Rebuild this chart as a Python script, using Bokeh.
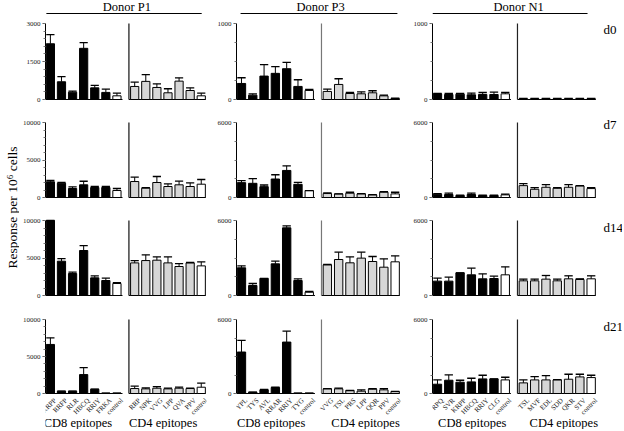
import math
from bokeh.plotting import figure
from bokeh.models import FixedTicker, Label, LabelSet, Range1d, ColumnDataSource
from bokeh.layouts import gridplot, row
from bokeh.embed import file_html
from bokeh.resources import INLINE
from bokeh.core.properties import value

FONT = "Liberation Serif"

# ---------------- data ----------------
donors = ["Donor P1", "Donor P3", "Donor N1"]
days = ["d0", "d7", "d14", "d21"]
group_labels = ["CD8 epitopes", "CD4 epitopes"]
ylabel_text = "Response per 10\u2076 cells"

p1_cd8_labels = ["KRPP", "RRFP", "RLR", "HBCQ", "RRIY", "FRKA", "control"]
p1_cd4_labels = ["RRP", "NPK", "VVG", "LPP", "QVA", "PPV", "control"]
p3_cd8_labels = ["YPL", "TYS", "AVL", "RRAR", "RRIY", "TYG", "control"]
p3_cd4_labels = ["VVG", "TSL", "PRS", "LPP", "QQR", "PPV", "control"]
n1_cd8_labels = ["RPQ", "SVR", "KRPP", "HBCQ", "RRIY", "CLG", "control"]
n1_cd4_labels = ["TSL", "MVF", "EDL", "SDD", "QKR", "STV", "control"]

p1_ymax = [3000, 10000, 10000, 10000]
p3_ymax = [1000, 6000, 6000, 6000]
n1_ymax = [1000, 6000, 6000, 6000]

# rows: d0, d7, d14, d21
p1_cd8 = [[2200, 700, 290, 2020, 460, 280, 145],
          [2090, 1910, 1200, 1690, 1330, 1330, 930],
          [10000, 4575, 2930, 6000, 2355, 2000, 1600],
          [6630, 314, 314, 2555, 580, 45, 45]]
p1_cd8_err = [[360, 200, 40, 225, 95, 130, 105],
              [180, 90, 220, 480, 135, 135, 270],
              [0, 355, 180, 660, 265, 310, 130],
              [900, 0, 0, 945, 0, 0, 0]]
p1_cd4 = [[515, 715, 475, 265, 725, 355, 145],
          [2130, 1245, 2000, 1465, 1690, 1465, 1775],
          [4350, 4660, 4710, 4350, 3865, 4350, 3950],
          [670, 627, 717, 627, 717, 670, 850]]
p1_cd4_err = [[170, 265, 145, 160, 130, 105, 105],
              [580, 85, 800, 355, 485, 485, 625],
              [310, 760, 440, 800, 395, 50, 530],
              [315, 133, 223, 90, 133, 47, 540]]

p3_cd8 = [[211, 57, 308, 344, 405, 172, 119],
          [1190, 1135, 870, 1480, 2165, 1055, 555],
          [2215, 800, 1360, 2535, 5415, 1200, 267],
          [3363, 108, 296, 484, 4170, 27, 27]]
p3_cd8_err = [[75, 18, 150, 88, 84, 88, 13],
              [160, 370, 130, 340, 370, 160, 0],
              [160, 160, 0, 215, 160, 135, 53],
              [942, 0, 27, 27, 890, 0, 0]]
p3_cd4 = [[106, 198, 79, 75, 88, 48, 13],
          [317, 290, 343, 290, 211, 422, 290],
          [2455, 2880, 2615, 2990, 2720, 2265, 2695],
          [377, 377, 242, 188, 350, 296, 161]]
p3_cd4_err = [[31, 75, 13, 26, 27, 9, 5],
              [53, 0, 79, 27, 27, 53, 132],
              [25, 590, 480, 480, 400, 670, 480],
              [26, 53, 0, 108, 53, 107, 0]]

n1_cd8 = [[75, 66, 70, 62, 66, 66, 75],
          [264, 238, 158, 238, 158, 158, 211],
          [1150, 1150, 1815, 1655, 1335, 1360, 1655],
          [753, 1076, 915, 942, 1184, 1184, 1103]]
n1_cd8_err = [[5, 13, 9, 22, 26, 31, 18],
              [53, 105, 27, 105, 27, 27, 53],
              [240, 320, 0, 535, 400, 190, 640],
              [350, 430, 161, 295, 295, 0, 215]]
n1_cd4 = [[9, 9, 9, 9, 9, 9, 9],
          [950, 660, 820, 740, 820, 925, 713],
          [1175, 1175, 1310, 1175, 1335, 1280, 1335],
          [861, 1103, 1103, 1103, 1157, 1345, 1291]]
n1_cd4_err = [[4, 4, 4, 4, 4, 4, 4],
              [160, 130, 210, 50, 210, 25, 77],
              [135, 135, 290, 135, 240, 55, 240],
              [242, 269, 349, 27, 403, 215, 188]]

donor_data = [
    dict(cd8_labels=p1_cd8_labels, cd4_labels=p1_cd4_labels, ymax=p1_ymax,
         cd8=p1_cd8, cd8_err=p1_cd8_err, cd4=p1_cd4, cd4_err=p1_cd4_err),
    dict(cd8_labels=p3_cd8_labels, cd4_labels=p3_cd4_labels, ymax=p3_ymax,
         cd8=p3_cd8, cd8_err=p3_cd8_err, cd4=p3_cd4, cd4_err=p3_cd4_err),
    dict(cd8_labels=n1_cd8_labels, cd4_labels=n1_cd4_labels, ymax=n1_ymax,
         cd8=n1_cd8, cd8_err=n1_cd8_err, cd4=n1_cd4, cd4_err=n1_cd4_err),
]

# ---------------- layout / style ----------------
PITCH = 5
CD4_START = 38
BAR_W = 3.7
X0 = -2.2
DIVIDER = 35.4
CD8_BASE_END = 32.5
CD4_BASE_END = 70.0
DAY_X = 73.5

YL_W = 19
col_L = [23, 23, 23]
col_R = [7, 9, 0]
col_fw = [164, 164, 190]
PXU = 2.26                # pixels per x unit
col_head_x = [34.5, 35.0, 35.9]
col_head_line = [(-1.8, 68.2), (-0.4, 69.0), (-2.2, 66.4)]
col_group_x = [(12.4, 50.8), (13.1, 54.9), (15.4, 55.9)]
divider_colors = ["#111111", "#777777", "#222222"]

# (fig top, frame bottom, baseline, axis top) in page px
rows_g = [(0, 104, 99, 23),
          (104, 202, 197, 122),
          (202, 300, 295, 220),
          (300, 429, 393, 319)]
day_y = [29, 124, 227, 326]
HEAD_TEXT_Y = 6.5
HEAD_LINE_Y = 13
ROT_LABEL_DY = 6
GROUP_LABEL_Y = 422.5

CD8_FILL = "#000000"
CD4_FILL = "#d6d6d6"
CTRL_FILL = "#ffffff"


def make_panel(ci, ri):
    d = donor_data[ci]
    ymax = d["ymax"][ri]
    top, fb, base, atop = rows_g[ri]
    k = (base - atop) / ymax
    y_start = -(fb - base) / k
    y_end = (base - top) / k
    fw = col_fw[ci]
    x_end = X0 + fw / PXU
    width = col_L[ci] + fw + col_R[ci]
    height = fb - top
    last = ri == 3
    p = figure(width=width, height=height,
               x_range=Range1d(X0, x_end), y_range=Range1d(y_start, y_end),
               output_backend="svg", toolbar_location=None, tools="", title=None,
               x_axis_location=None, y_axis_location="left",
               min_border_left=col_L[ci], min_border_right=col_R[ci],
               min_border_top=0, min_border_bottom=0)
    p.outline_line_color = None
    p.xgrid.visible = False
    p.ygrid.visible = False
    p.background_fill_color = "white"
    p.border_fill_color = "white"

    def px_y(py):
        return (base - py) / k

    n8 = len(d["cd8"][ri])
    n4 = len(d["cd4"][ri])
    x8 = [PITCH * i for i in range(n8)]
    x4 = [CD4_START + PITCH * i for i in range(n4)]
    v8 = d["cd8"][ri]
    v4 = d["cd4"][ri]
    t8 = [v + e for v, e in zip(v8, d["cd8_err"][ri])]
    t4 = [v + e for v, e in zip(v4, d["cd4_err"][ri])]
    c8 = [CD8_FILL] * (n8 - 1) + [CTRL_FILL]
    c4 = [CD4_FILL] * (n4 - 1) + [CTRL_FILL]

    xs = x8 + x4
    vs = v8 + v4
    ts = t8 + t4
    cs = c8 + c4

    # baselines and divider
    p.segment(x0=[X0, DIVIDER], y0=[0, 0], x1=[CD8_BASE_END, CD4_BASE_END], y1=[0, 0],
              line_color="black", line_width=1)
    p.segment(x0=[DIVIDER], y0=[0], x1=[DIVIDER], y1=[ymax],
              line_color=divider_colors[ci], line_width=1.2)

    p.vbar(x=xs, top=vs, bottom=0, width=BAR_W, fill_color=cs,
           line_color="black", line_width=1)
    # error bars (upper whisker + cap)
    p.segment(x0=xs, y0=vs, x1=xs, y1=ts, line_color="black", line_width=1)
    p.segment(x0=[x - BAR_W / 2 for x in xs], y0=ts, x1=[x + BAR_W / 2 for x in xs], y1=ts,
              line_color="black", line_width=1.3)

    # y axis
    yax = p.yaxis[0]
    yax.bounds = (0, ymax)
    if ci == 0:
        yax.ticker = FixedTicker(ticks=[0, ymax // 2, ymax],
                                 minor_ticks=[ymax * i // 10 for i in range(11)])
    else:
        yax.ticker = FixedTicker(ticks=[0, ymax],
                                 minor_ticks=[ymax * i // 4 for i in range(5)])
    yax.major_label_text_font = FONT
    yax.major_label_text_font_size = "7px"
    yax.major_label_text_color = "#222222"
    yax.major_label_standoff = 2
    yax.major_tick_out = 3
    yax.major_tick_in = 0
    yax.minor_tick_out = 2
    yax.minor_tick_in = 0
    yax.axis_line_color = "black"
    yax.axis_line_width = 1
    yax.major_tick_line_color = "#555555"
    yax.minor_tick_line_color = "#777777"

    if last:
        # rotated epitope labels hanging below each bar
        labs = d["cd8_labels"] + d["cd4_labels"]
        src = ColumnDataSource(dict(x=[x + 5 / PXU for x in xs],
                                    y=[px_y(base + ROT_LABEL_DY)] * len(xs), text=labs))
        p.add_layout(LabelSet(x="x", y="y", text="text", source=src,
                              angle=math.pi / 4, text_align="right", text_baseline="middle",
                              text_font=value(FONT), text_font_size="7px",
                              text_color="#1a1a1a"))
        p.text(x=list(col_group_x[ci]), y=[px_y(GROUP_LABEL_Y)] * 2, text=group_labels,
               text_align="center", text_baseline="middle",
               text_font=value(FONT), text_font_size="12.5px", text_color="black")

    if ri == 0:
        p.add_layout(Label(x=col_head_x[ci], y=px_y(HEAD_TEXT_Y), text=donors[ci],
                           text_align="center", text_baseline="middle",
                           text_font=FONT, text_font_size="12.5px", text_color="black"))
        hl = col_head_line[ci]
        p.segment(x0=[hl[0]], y0=[px_y(HEAD_LINE_Y)], x1=[hl[1]],
                  y1=[px_y(HEAD_LINE_Y)], line_color="black", line_width=1)
    if ci == 2:
        p.add_layout(Label(x=DAY_X, y=px_y(day_y[ri]), text=days[ri],
                           text_align="left", text_baseline="middle",
                           text_font=FONT, text_font_size="13px", text_color="black"))
    return p


grid = gridplot([[make_panel(ci, ri) for ci in range(3)] for ri in range(4)],
                toolbar_location=None)

total_h = rows_g[-1][1] - rows_g[0][0]
yl = figure(width=YL_W, height=total_h, x_range=Range1d(0, YL_W), y_range=Range1d(0, total_h),
            output_backend="svg", toolbar_location=None, tools="", title=None,
            x_axis_location=None, y_axis_location=None, min_border=0)
yl.outline_line_color = None
yl.xgrid.visible = False
yl.ygrid.visible = False
yl.add_layout(Label(x=12, y=total_h - 207, text=ylabel_text, angle=math.pi / 2,
                    text_align="center", text_baseline="middle",
                    text_font=FONT, text_font_size="13.5px", text_color="black"))

layout = row(yl, grid)

with open("out.html", "w") as f:
    f.write(file_html(layout, INLINE))
